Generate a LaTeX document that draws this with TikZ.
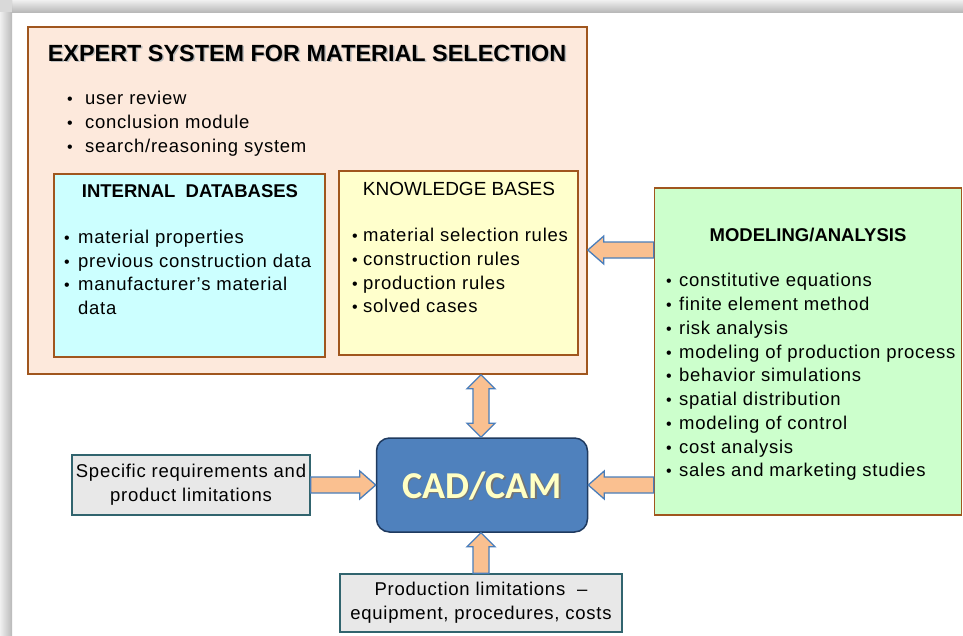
\documentclass[tikz,border=0pt]{standalone}
\usepackage{fontspec}
\setmainfont{Liberation Sans}
\newfontfamily\bodyfont[LetterSpace=4]{Liberation Sans}
\newfontfamily\cadfont{Carlito}
\usetikzlibrary{calc}
\definecolor{peach}{HTML}{FDE9DC}
\definecolor{brownline}{HTML}{A0561E}
\definecolor{cyanfill}{HTML}{CCFFFF}
\definecolor{yellowfill}{HTML}{FFFFCC}
\definecolor{greenfill}{HTML}{CCFFCC}
\definecolor{cadblue}{HTML}{4F81BD}
\definecolor{cadborder}{HTML}{1F3A5F}
\definecolor{cadtext}{HTML}{FFFFC4}
\definecolor{greyfill}{HTML}{E8E8E8}
\definecolor{greyborder}{HTML}{31646E}
\definecolor{arrowfill}{HTML}{FAC090}
\definecolor{arrowline}{HTML}{4A7EBB}
\tikzset{
  panel/.style={draw=brownline, line width=1.6pt, rectangle, inner sep=0pt},
  infobox/.style={draw=greyborder, fill=greyfill, line width=1.3pt, rectangle, inner sep=0pt, align=center, font=\bodyfont\fontsize{18.5}{24}\selectfont},
  barrow/.style={fill=arrowfill, draw=arrowline, line width=1.3pt, line join=miter},
  btxt/.style={anchor=base west, inner sep=0pt, font=\bodyfont\fontsize{18.5}{22}\selectfont},
  dot/.style={anchor=base, inner sep=0pt, font=\fontsize{16}{16}\selectfont},
  ttl/.style={anchor=base, inner sep=0pt}
}
% horizontal block arrow pointing left: #1 start, #2 tip
\newcommand{\arrowLeft}[2]{%
  \path[barrow] let \p1=(#1), \p2=(#2) in
   (\x1,\y1+8pt) -- (\x2+16pt,\y1+8pt) -- (\x2+16pt,\y1+14pt) -- (\x2,\y1) --
   (\x2+16pt,\y1-14pt) -- (\x2+16pt,\y1-8pt) -- (\x1,\y1-8pt) -- cycle;}
% horizontal block arrow pointing right
\newcommand{\arrowRight}[2]{%
  \path[barrow] let \p1=(#1), \p2=(#2) in
   (\x1,\y1+8pt) -- (\x2-16pt,\y1+8pt) -- (\x2-16pt,\y1+14pt) -- (\x2,\y1) --
   (\x2-16pt,\y1-14pt) -- (\x2-16pt,\y1-8pt) -- (\x1,\y1-8pt) -- cycle;}
% vertical block arrow pointing up (canvas)
\newcommand{\arrowUp}[2]{%
  \path[barrow] let \p1=(#1), \p2=(#2) in
   (\x1-8pt,\y1) -- (\x1-8pt,\y2-14pt) -- (\x1-14pt,\y2-14pt) -- (\x1,\y2) --
   (\x1+14pt,\y2-14pt) -- (\x1+8pt,\y2-14pt) -- (\x1+8pt,\y1) -- cycle;}
% vertical double arrow: #1 lower end, #2 upper end
\newcommand{\arrowBoth}[2]{%
  \path[barrow] let \p1=(#1), \p2=(#2) in
   (\x1,\y1) -- (\x1-14pt,\y1+14pt) -- (\x1-8pt,\y1+14pt) -- (\x1-8pt,\y2-14pt) --
   (\x1-14pt,\y2-14pt) -- (\x1,\y2) -- (\x1+14pt,\y2-14pt) -- (\x1+8pt,\y2-14pt) --
   (\x1+8pt,\y1+14pt) -- (\x1+14pt,\y1+14pt) -- cycle;}
\begin{document}
\begin{tikzpicture}[x=1pt,y=-1pt]
\useasboundingbox (0,0) rectangle (963,635);
% page shadow
\fill[white] (0,0) rectangle (963,635);
\shade[top color=gray!12, bottom color=gray!55] (12,0) rectangle (963,12);
\shade[left color=gray!12, right color=gray!55] (0,0) rectangle (12,635);
\fill[gray!30] (0,0) rectangle (12,12);

% expert system panel
\node[panel, fill=peach, minimum width=559pt, minimum height=347pt] (exp) at (307.5,200.5) {};
\node[ttl, font=\fontsize{23.4}{26}\selectfont\bfseries, text=gray!50] at (308.5,62.5) {EXPERT SYSTEM FOR MATERIAL SELECTION};
\node[ttl, font=\fontsize{23.4}{26}\selectfont\bfseries] (exptitle) at (307,61) {EXPERT SYSTEM FOR MATERIAL SELECTION};
\foreach \t [count=\i] in {user review, conclusion module, search/reasoning system}{
  \node[dot] at (70,{80+24*\i}) {•};
  \node[btxt] at (85,{80+24*\i}) {\t};
}

% internal databases
\node[panel, fill=cyanfill, minimum width=271pt, minimum height=183pt] (idb) at (189.5,265.5) {};
\node[ttl, font=\fontsize{18.5}{22}\selectfont\bfseries] at (190,197) {INTERNAL\ \ DATABASES};
\foreach \t [count=\i] in {material properties, previous construction data, manufacturer’s material}{
  \node[dot] at (67,{220+23.5*\i}) {•};
  \node[btxt] at (78,{220+23.5*\i}) {\t};
}
\node[btxt] at (78,314.5) {data};

% knowledge bases
\node[panel, fill=yellowfill, minimum width=239pt, minimum height=184pt] (kb) at (458.5,263) {};
\node[ttl, font=\fontsize{19}{22}\selectfont] at (459,195) {KNOWLEDGE BASES};
\foreach \t [count=\i] in {material selection rules, construction rules, production rules, solved cases}{
  \node[dot] at (355,{218+23.7*\i}) {•};
  \node[btxt] at (363,{218+23.7*\i}) {\t};
}

% modeling / analysis
\node[panel, fill=greenfill, minimum width=307pt, minimum height=327pt] (mod) at (808,351.5) {};
\node[ttl, font=\fontsize{18.5}{22}\selectfont\bfseries] at (808,241) {MODELING/ANALYSIS};
\foreach \t [count=\i] in {constitutive equations, finite element method, risk analysis, modeling of production process, behavior simulations, spatial distribution, modeling of control, cost analysis, sales and marketing studies}{
  \node[dot] at (669,{263+23.75*\i}) {•};
  \node[btxt] at (679,{263+23.75*\i}) {\t};
}

% CAD/CAM
\node[draw=cadborder, fill=cadblue, line width=1.5pt, rounded corners=13pt, minimum width=211pt, minimum height=94pt, inner sep=0pt] (cad) at (482,485) {};
\node[inner sep=0pt, font=\cadfont\fontsize{38}{40}\selectfont\bfseries, text=black!55] at (483.5,487.5) {CAD/CAM};
\node[inner sep=0pt, font=\cadfont\fontsize{38}{40}\selectfont\bfseries, text=cadtext] (cadtxt) at (482,486) {CAD/CAM};

% side boxes
\node[infobox, minimum width=238pt, minimum height=60pt] (spec) at (191,485) {Specific requirements and\\product limitations};
\node[infobox, minimum width=282pt, minimum height=58pt] (prod) at (481,603) {Production limitations \ –\\equipment, procedures, costs};

% helper coordinates
\coordinate (yA) at (0,250);
\coordinate (yB) at (0,485);
\coordinate (xA) at (481,0);

% block arrows
\arrowLeft{mod.west |- yA}{exp.east |- yA}
\arrowLeft{mod.west |- yB}{cad.east |- yB}
\arrowRight{spec.east |- yB}{cad.west |- yB}
\arrowUp{xA |- prod.north}{xA |- cad.south}
\arrowBoth{xA |- cad.north}{xA |- exp.south}
\end{tikzpicture}
\end{document}
